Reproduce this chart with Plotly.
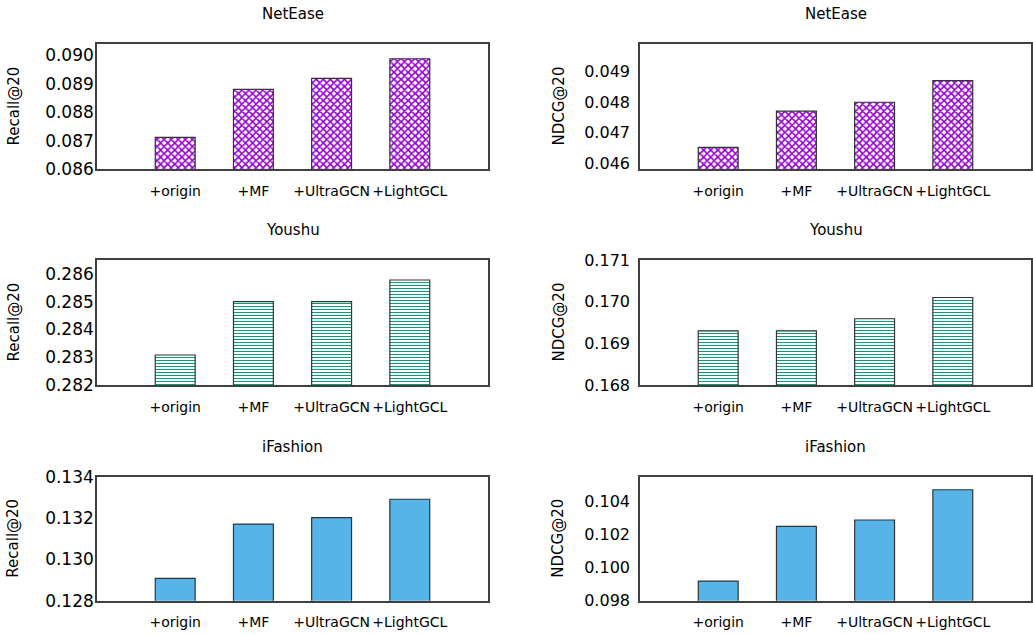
import plotly.graph_objects as go

categories = ["+origin", "+MF", "+UltraGCN", "+LightGCL"]
datasets = ["NetEase", "Youshu", "iFashion"]

netease_recall = [0.08711, 0.0888, 0.08919, 0.08988]
netease_ndcg = [0.04651, 0.0477, 0.04799, 0.04870]
youshu_recall = [0.28308, 0.2850, 0.2850, 0.28578]
youshu_ndcg = [0.1693, 0.1693, 0.16959, 0.1701]
ifashion_recall = [0.12908, 0.13171, 0.13202, 0.13291]
ifashion_ndcg = [0.09919, 0.1025, 0.10288, 0.10471]

recall_ticks = [[0.086, 0.087, 0.088, 0.089, 0.090],
                [0.282, 0.283, 0.284, 0.285, 0.286],
                [0.128, 0.130, 0.132, 0.134]]
ndcg_ticks = [[0.046, 0.047, 0.048, 0.049],
              [0.168, 0.169, 0.170, 0.171],
              [0.098, 0.100, 0.102, 0.104]]
recall_ranges = [[0.086, 0.0904], [0.282, 0.2865], [0.128, 0.134]]
ndcg_ranges = [[0.0458, 0.0499], [0.168, 0.171], [0.098, 0.1055]]

W, H = 1033, 635
FONT = "DejaVu Sans"
colors = ["#9400D3", "#009E73", "#56B4E9"]
patterns = [dict(shape="x", size=5, solidity=0.55, fgcolor="#9400D3", bgcolor="white"),
            dict(shape="-", size=3, solidity=0.35, fgcolor="#009E73", bgcolor="white"),
            None]

x_dom = [[97 / W, 488 / W], [640 / W, 1031 / W]]
rows_px = [(44, 169), (260, 385), (476.7, 600.7)]
y_dom = [[1 - b / H, 1 - t / H] for t, b in rows_px]
ytick_size = [17, 16]
ytick_standoff = [-2, 5]

recalls = [netease_recall, youshu_recall, ifashion_recall]
ndcgs = [netease_ndcg, youshu_ndcg, ifashion_ndcg]
xpos = list(range(1, len(categories) + 1))

fig = go.Figure()
layout = dict(template="none", width=W, height=H, margin=dict(l=0, r=0, t=0, b=0),
              paper_bgcolor="white", plot_bgcolor="white", showlegend=False,
              font=dict(family=FONT, color="#000000"))
annotations = []
idx = 0
for r in range(3):
    for c in range(2):
        idx += 1
        vals = recalls[r] if c == 0 else ndcgs[r]
        ticks = recall_ticks[r] if c == 0 else ndcg_ticks[r]
        rng = recall_ranges[r] if c == 0 else ndcg_ranges[r]
        xa = "x" if idx == 1 else f"x{idx}"
        ya = "y" if idx == 1 else f"y{idx}"
        marker = dict(color="white" if patterns[r] else colors[r],
                      line=dict(color="#333333", width=1.2))
        if patterns[r]:
            marker["pattern"] = patterns[r]
        fig.add_trace(go.Bar(x=xpos, y=vals, width=0.51, marker=marker,
                             xaxis=xa, yaxis=ya))
        axis_common = dict(showgrid=False, zeroline=False, showline=True, mirror=True,
                           linecolor="#404040", linewidth=1.6, ticks="", automargin=False)
        layout["xaxis" if idx == 1 else f"xaxis{idx}"] = dict(
            axis_common, domain=x_dom[c], range=[0, 5], tickvals=xpos, ticktext=categories,
            tickfont=dict(size=14, family=FONT), anchor=ya, ticklabelstandoff=8)
        layout["yaxis" if idx == 1 else f"yaxis{idx}"] = dict(
            axis_common, domain=y_dom[r], range=rng, tickvals=ticks, tickformat=".3f",
            tickfont=dict(size=ytick_size[c], family=FONT), anchor=xa,
            ticklabelstandoff=ytick_standoff[c])
        annotations.append(dict(text=datasets[r], xref="paper", yref="paper",
                                x=(x_dom[c][0] + x_dom[c][1]) / 2,
                                y=1 - (rows_px[r][0] - 30) / H,
                                xanchor="center", yanchor="middle", showarrow=False,
                                font=dict(size=15, family=FONT)))
        annotations.append(dict(text="Recall@20" if c == 0 else "NDCG@20",
                                xref="paper", yref="paper",
                                x=(13 if c == 0 else 558) / W,
                                y=(y_dom[r][0] + y_dom[r][1]) / 2,
                                xanchor="center", yanchor="middle", textangle=-90,
                                showarrow=False, font=dict(size=15, family=FONT)))
layout["annotations"] = annotations
fig.update_layout(**layout)
fig.write_html("out.html", config={"displayModeBar": False},
               post_script="document.body.style.margin='0';document.body.style.padding='0';")
